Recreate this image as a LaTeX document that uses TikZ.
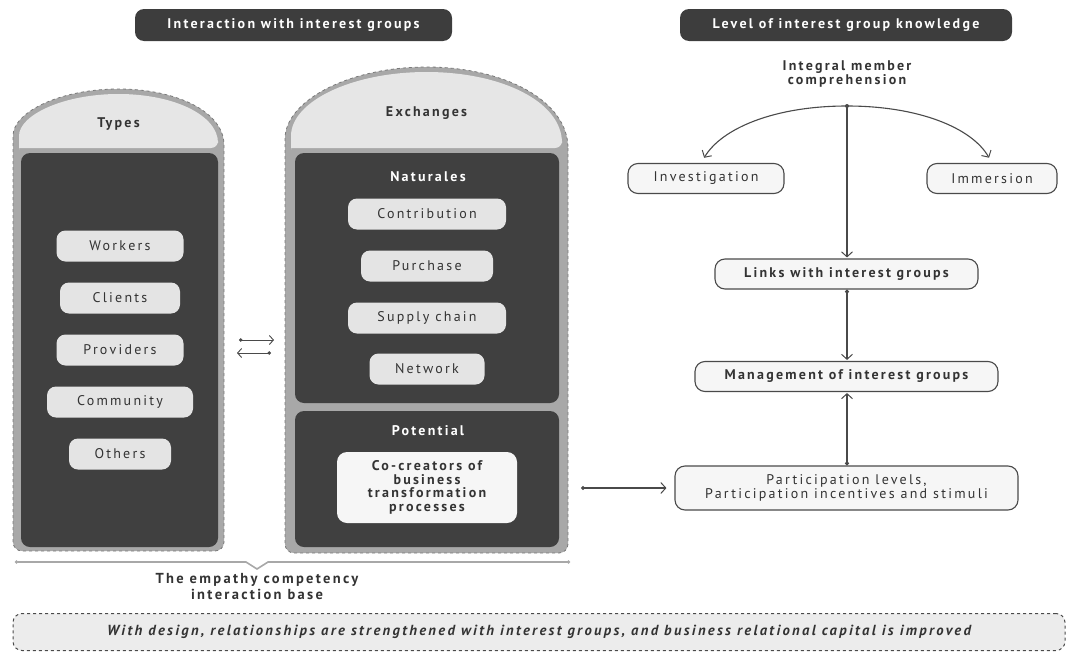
\documentclass[tikz,border=0pt]{standalone}
\usepackage{fontspec}
\setmainfont{PT Sans}[LetterSpace=16]
\usetikzlibrary{arrows.meta}
\definecolor{hdrc}{HTML}{3D3D3D}
\definecolor{panel}{HTML}{404040}
\definecolor{pillc}{HTML}{E4E4E4}
\definecolor{band}{HTML}{A8A8A8}
\definecolor{bandline}{HTML}{7A7A7A}
\definecolor{domec}{HTML}{E6E6E6}
\definecolor{txt}{HTML}{333333}
\definecolor{rfill}{HTML}{F6F6F6}
\definecolor{rline}{HTML}{4A4A4A}
\definecolor{botfill}{HTML}{ECECEC}
\tikzset{
  hdr/.style={fill=hdrc, rounded corners=9pt, text=white, font=\fontsize{14}{15}\selectfont\bfseries, inner sep=0pt, minimum height=32pt},
  pill/.style={fill=pillc, rounded corners=9pt, text=txt, font=\fontsize{14}{15}\selectfont, inner sep=0pt, minimum height=31pt},
  ptitle/.style={text=white, font=\fontsize{14}{15}\selectfont\bfseries, inner sep=0pt},
  domet/.style={text=txt, font=\fontsize{14}{15}\selectfont\bfseries, inner sep=0pt},
  rbox/.style={draw=rline, line width=1.1pt, fill=rfill, rounded corners=10pt, text=txt, inner sep=0pt, minimum height=30pt, font=\fontsize{14}{15}\selectfont},
  conn/.style={draw=rline, line width=1.1pt},
  arr/.style={conn, -{Straight Barb[length=5pt,width=11pt,line width=1pt]}},
  darr/.style={conn, {Circle[length=4pt]}-{Straight Barb[length=5pt,width=11pt,line width=1pt]}},
  outerc/.style={fill=band, draw=bandline, dashed, line width=0.8pt},
}
\begin{document}
\begin{tikzpicture}[x=1pt,y=-1pt]
\useasboundingbox (0,0) rectangle (1071,653);
% headers
\node[hdr, minimum width=317pt] (h1) at (293.5,25) {Interaction with interest groups};
\node[hdr, minimum width=332pt] (h2) at (846,25) {Level of interest group knowledge};

% ---- Types column
\path[outerc] (224,145) [rounded corners=9pt] -- (224,551) -- (13,551) -- (13,145) [sharp corners]
  .. controls (13,112) and (60.2,89) .. (118.5,89) .. controls (176.8,89) and (224,112) .. (224,145) -- cycle;
\path[fill=domec] (19,148) [rounded corners=7pt] -- (19,143) [sharp corners]
  .. controls (19,115) and (63.5,94) .. (118.5,94) .. controls (173.5,94) and (218,115) .. (218,143)
  [rounded corners=7pt] -- (218,148) [sharp corners] -- cycle;
\path[fill=panel, rounded corners=9pt] (21,153) rectangle (218,547);
\node[domet] (types) at (118.5,124) {Types};
\node[pill, minimum width=127pt] (workers) at (120,246) {Workers};
\node[pill, minimum width=120pt] (clients) at (120,298) {Clients};
\node[pill, minimum width=127pt] (providers) at (120,350) {Providers};
\node[pill, minimum width=146pt] (community) at (120,402) {Community};
\node[pill, minimum width=102pt] (others) at (120,454) {Others};

% ---- Exchanges column
\path[outerc] (568,148) [rounded corners=9pt] -- (568,553) -- (285,553) -- (285,148) [sharp corners]
  .. controls (285,101) and (348.4,67) .. (426.5,67) .. controls (504.6,67) and (568,101) .. (568,148) -- cycle;
\path[fill=domec] (291,148) [rounded corners=7pt] -- (291,143) [sharp corners]
  .. controls (291,101.5) and (351.7,72) .. (426.5,72) .. controls (501.3,72) and (562,101.5) .. (562,143)
  [rounded corners=7pt] -- (562,148) [sharp corners] -- cycle;
\path[fill=panel, rounded corners=9pt] (295,153) rectangle (559,403);
\path[fill=panel, rounded corners=9pt] (295,411) rectangle (559,547);
\node[domet] (exch) at (426.5,113) {Exchanges};
\node[ptitle] (nat) at (428,177) {Naturales};
\node[pill, minimum width=158pt] (contrib) at (427,214) {Contribution};
\node[pill, minimum width=132pt] (purch) at (427,266) {Purchase};
\node[pill, minimum width=158pt] (supply) at (427,318) {Supply chain};
\node[pill, minimum width=115pt] (network) at (427,369) {Network};
\node[ptitle] (pot) at (428,431) {Potential};
\node[fill=rfill, rounded corners=10pt, text=txt, inner sep=0pt, minimum width=180pt, minimum height=71pt,
  align=center, font=\fontsize{14}{13.5}\selectfont\bfseries] (cocr) at (427,487.5)
  {Co-creators of\\business\\transformation\\processes};

% exchange arrows between columns
\coordinate (a1s) at (239,340); \coordinate (a1e) at (274,340);
\coordinate (a2s) at (271,353); \coordinate (a2e) at (237,353);
\draw[conn, line width=0.9pt, {Circle[length=3.5pt]}-{Straight Barb[length=4pt,width=9pt,line width=0.9pt]}] (a1s) -- (a1e);
\draw[conn, line width=0.9pt, {Circle[length=3.5pt]}-{Straight Barb[length=4pt,width=9pt,line width=0.9pt]}] (a2s) -- (a2e);

% bottom brace
\coordinate (bl) at (15,562); \coordinate (br) at (570,562);
\draw[band, line width=1.6pt, {Circle[length=3pt]}-{Circle[length=3pt]}]
  (bl) -- (246,562) -- (257,569) -- (268,562) -- (br);
\node[text=txt, align=center, inner sep=0pt, font=\fontsize{14.5}{16}\selectfont\bfseries] (emp) at (257,587)
  {The empathy competency\\interaction base};

% ---- right side
\node[text=txt, align=center, inner sep=0pt, font=\fontsize{14}{14}\selectfont\bfseries] (integral) at (847,74)
  {Integral member\\comprehension};
\coordinate (arctop) at (847,106);
\node[rbox, minimum width=156pt] (invest) at (706,178.5) {Investigation};
\node[rbox, minimum width=130pt] (immer) at (992,178.5) {Immersion};
\node[rbox, minimum width=263pt, font=\fontsize{14}{15}\selectfont\bfseries] (links) at (846.5,274) {Links with interest groups};
\node[rbox, minimum width=303pt, font=\fontsize{14}{15}\selectfont\bfseries] (manag) at (846.5,376.5) {Management of interest groups};
\node[rbox, minimum width=343pt, minimum height=44pt, align=center, font=\fontsize{14}{13.5}\selectfont] (partic) at (846.5,488)
  {Participation levels,\\Participation incentives and stimuli};

\draw[arr, shorten >=6pt] (arctop) .. controls (775,106) and (722,128) .. (invest.north -| 701,0);
\draw[arr, shorten >=6pt] (arctop) .. controls (919,106) and (972,128) .. (immer.north);
\fill[rline] (arctop) circle (2pt);
\draw[arr, shorten >=1pt] (arctop) -- (links.north -| arctop);
\draw[darr, shorten >=1pt] (links.south -| arctop) -- (manag.north -| arctop);
\draw[darr, shorten >=1pt] (partic.north -| arctop) -- (manag.south -| arctop);
\coordinate (ps) at (581,488);
\draw[darr, shorten >=8pt] (ps) -- (partic.west);

% bottom note
\node[draw=rline, dashed, line width=1pt, fill=botfill, rounded corners=9pt, minimum width=1052pt, minimum height=37pt,
  inner sep=0pt, text=txt, font=\fontsize{14.6}{15}\selectfont\bfseries\itshape] (note) at (539,632)
  {With design, relationships are strengthened with interest groups, and business relational capital is improved};
\end{tikzpicture}
\end{document}
